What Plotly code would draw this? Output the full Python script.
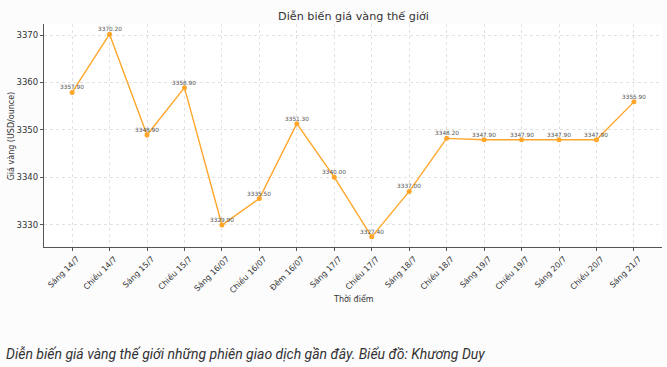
import plotly.graph_objects as go

categories = ["Sáng 14/7", "Chiều 14/7", "Sáng 15/7", "Chiều 15/7", "Sáng 16/07",
              "Chiều 16/07", "Đêm 16/07", "Sáng 17/7", "Chiều 17/7", "Sáng 18/7",
              "Chiều 18/7", "Sáng 19/7", "Chiều 19/7", "Sáng 20/7", "Chiều 20/7", "Sáng 21/7"]
prices = [3357.90, 3370.20, 3348.90, 3358.90, 3329.90, 3335.50, 3351.30, 3340.00,
          3327.40, 3337.00, 3348.20, 3347.90, 3347.90, 3347.90, 3347.90, 3355.90]
y_ticks = [3330, 3340, 3350, 3360, 3370]

FONT = "DejaVu Sans"
ORANGE = "#FFA62B"

n = len(prices)
xs = list(range(n))

fig = go.Figure()
fig.add_trace(go.Scatter(
    x=xs, y=prices, mode="lines+markers",
    line=dict(color=ORANGE, width=1.4),
    marker=dict(color=ORANGE, size=5, symbol="circle"),
    hoverinfo="skip", showlegend=False,
))

for i, v in enumerate(prices):
    fig.add_annotation(x=i, y=v, text=f"{v:.2f}", showarrow=False, yshift=5,
                       font=dict(family=FONT, size=5.8, color="#555"))

lo, hi = min(prices), max(prices)
pad = (hi - lo) * 0.05
xpad = (n - 1) * 0.05

fig.update_layout(
    width=667, height=367,
    margin=dict(l=44, r=5, t=24, b=120),
    paper_bgcolor="#fcfcfd", plot_bgcolor="white",
    title=dict(text="Diễn biến giá vàng thế giới", x=0.53, xanchor="center",
               y=0.957, yanchor="middle", font=dict(family=FONT, size=11.2, color="#333")),
    xaxis=dict(range=[-xpad, n - 1 + xpad], tickmode="array", tickvals=xs, ticktext=categories,
               tickangle=-45, tickfont=dict(family=FONT, size=8, color="#333"),
               ticklabelshift=5,
               showgrid=True, gridcolor="#e2e2e2", griddash="dot", gridwidth=0.7,
               showline=True, linecolor="#555", linewidth=1.2,
               ticks="outside", ticklen=3, tickcolor="#555", zeroline=False),
    yaxis=dict(range=[lo - pad, hi + pad], tickmode="array", tickvals=y_ticks,
               tickfont=dict(family=FONT, size=8.5, color="#333"),
               showgrid=True, gridcolor="#e2e2e2", griddash="dot", gridwidth=0.7,
               showline=True, linecolor="#555", linewidth=1.2,
               ticks="outside", ticklen=3, tickcolor="#555", zeroline=False),
)

fig.add_annotation(text="Thời điểm", xref="paper", yref="paper", x=0.5, y=-0.232,
                   xanchor="center", yanchor="middle", showarrow=False,
                   font=dict(family=FONT, size=8, color="#333"))
fig.add_annotation(text="Giá vàng (USD/ounce)", xref="paper", yref="paper", x=-0.052, y=0.5,
                   xanchor="center", yanchor="middle", textangle=-90, showarrow=False,
                   font=dict(family=FONT, size=8, color="#333"))
fig.add_annotation(text="Diễn biến giá vàng thế giới những phiên giao dịch gần đây. Biểu đồ: Khương Duy",
                   xref="paper", yref="paper", x=-0.0647, y=-0.48, xanchor="left", yanchor="middle",
                   showarrow=False,
                   font=dict(family="Roboto", size=14, color="#333", style="italic"))

fig.write_html("out.html", config={"displayModeBar": False},
               post_script="document.body.style.margin='0';")
